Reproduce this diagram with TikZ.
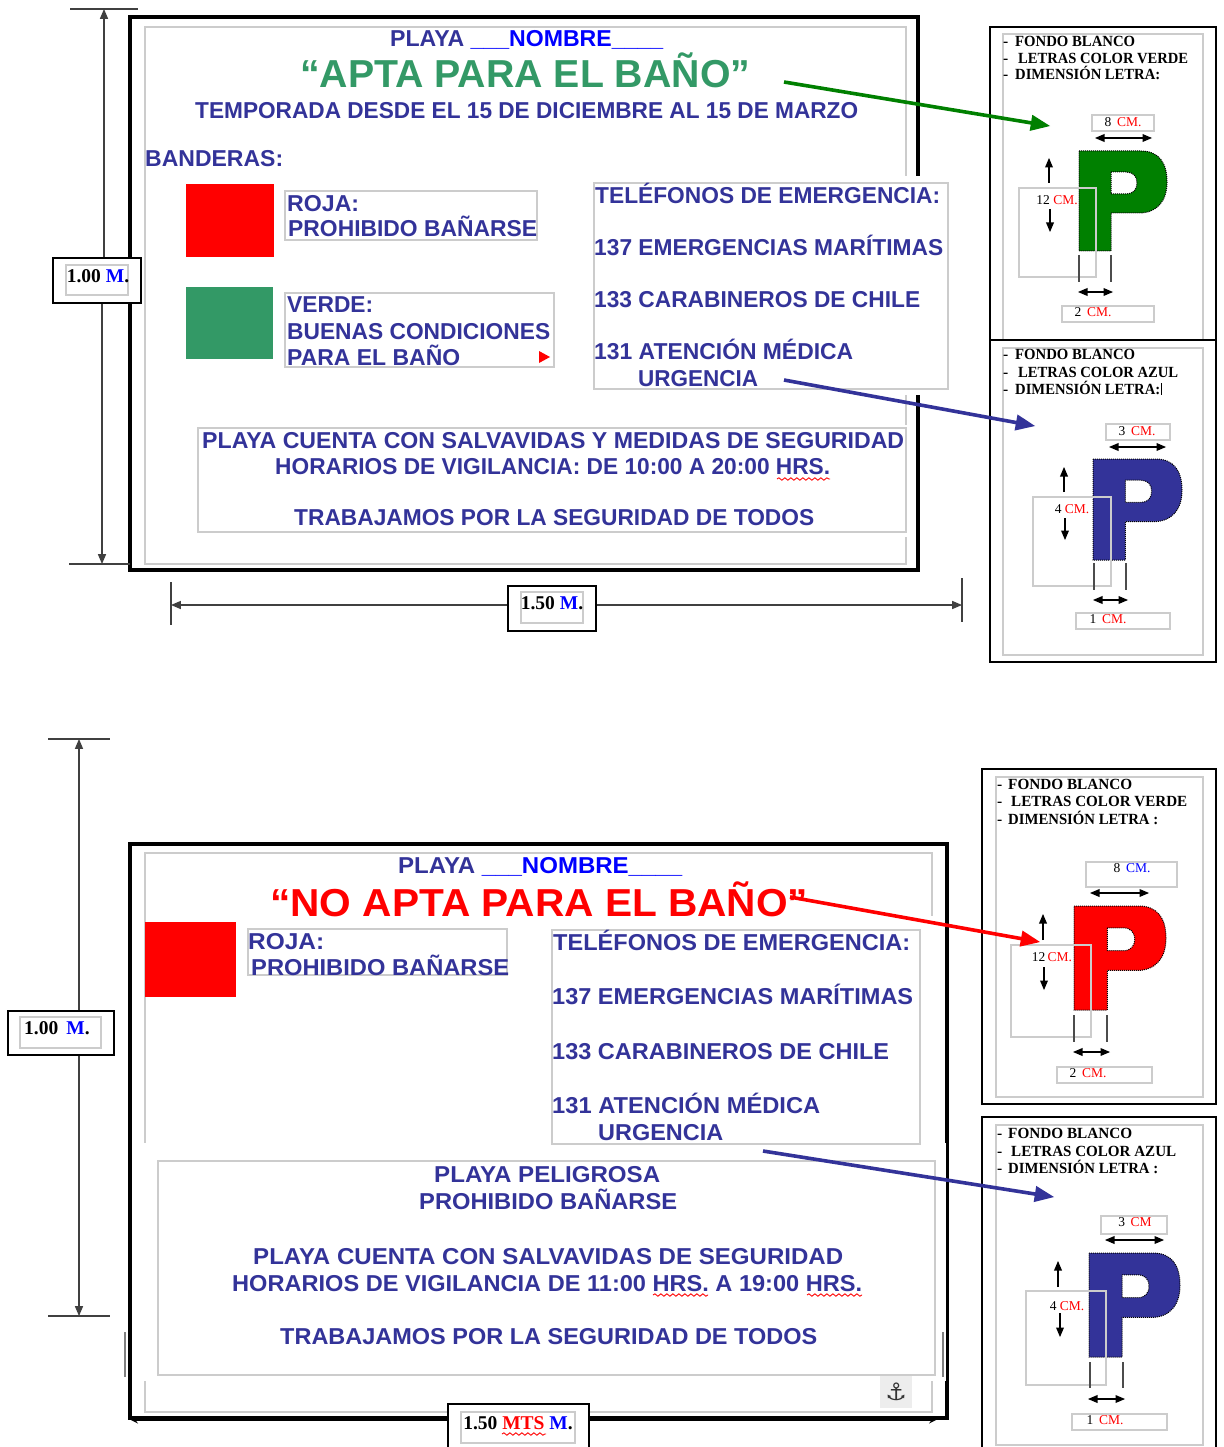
\documentclass[tikz,border=0pt]{standalone}
\usepackage{fontspec}
\usepackage{graphicx}
\setmainfont{Liberation Serif}
\setsansfont{Liberation Sans}
\newfontfamily\anchorfont{DejaVu Sans}
\usetikzlibrary{arrows,positioning,fit,decorations.pathmorphing}
\definecolor{cartelblue}{HTML}{333399}
\definecolor{cartelgreen}{HTML}{339966}
\definecolor{arrowgreen}{HTML}{008000}
\definecolor{grayline}{HTML}{CCCCCC}
\newcommand\fitw[2]{\resizebox{#1pt}{\height}{#2}}
\newcommand\cm[1]{\textcolor{red}{#1}}
\tikzset{
  signframe/.style={draw=black, line width=4pt},
  graybox/.style={draw=grayline, line width=1.2pt, fill=white, inner sep=0pt},
  plainbox/.style={draw=grayline, line width=1.2pt, inner sep=0pt},
  blackbox/.style={draw=black, line width=1.1pt, fill=white, inner sep=0pt},
  cover/.style={fill=white, inner sep=0pt},
  caps/.style={anchor=west, inner sep=0pt, text height=17pt, text depth=0pt,
    text=cartelblue, font=\sffamily\bfseries\fontsize{23}{23}\selectfont},
  bigcaps/.style={caps, text height=28.5pt, font=\sffamily\bfseries\fontsize{39}{39}\selectfont},
  note/.style={anchor=west, inner sep=0pt, text height=10.2pt, text depth=0pt,
    font=\rmfamily\bfseries\fontsize{15.5}{15.5}\selectfont},
  size/.style={inner sep=0pt, text height=9pt, text depth=0pt,
    font=\rmfamily\fontsize{13.5}{13.5}\selectfont},
  dimtext/.style={inner sep=0pt, font=\rmfamily\bfseries\fontsize{19.5}{19.5}\selectfont},
  dimline/.style={draw=black!75, line width=1.3pt},
  dimarrow/.style={dimline, -triangle 45},
  bothway/.style={draw=black, line width=1.2pt, triangle 45-triangle 45},
  oneway/.style={draw=black, line width=1.2pt, -triangle 45},
  guide/.style={draw=black!70, line width=1.4pt},
  bigarrow/.style={line width=3.6pt, -triangle 45},
  wavy/.style={draw=red, line width=0.9pt, decorate, decoration={snake, amplitude=1.2pt, segment length=6pt}},
  letterp/.style={draw=black, densely dotted, line width=1pt, fill=#1, even odd rule},
}
% letter P: left, top, width, height, colour
\newcommand\letterP[5]{
  \begin{scope}[shift={(#1,#2)}, xscale=#3/88, yscale=#4/100]
    \path[letterp=#5] (0,0) -- (62,0) .. controls (80,0) and (88,12) .. (88,31)
      .. controls (88,50) and (78,62) .. (60,62) -- (32,62) -- (32,100) -- (0,100) -- cycle
      (32,21) -- (47,21) .. controls (54,21) and (58,25) .. (58,32)
      .. controls (58,39) and (54,43) .. (47,43) -- (32,43) -- cycle;
  \end{scope}
}
\begin{document}
\begin{tikzpicture}[x=1pt, y=-1pt]
  \useasboundingbox (0,0) rectangle (1223,1447);

  % ---- upper sign
  \node[plainbox, fit={(145,27)(906,564)}] (inneraa) {};
  \node[signframe, inner sep=0pt, fit={(130,17)(918,570)}] (signa) {};
  \node[cover, fit={(585,176)(925,395)}] (coveraa) {};
  \node[graybox, fit={(594,183)(948,389)}] (phonesa) {};
  \node[cover, fit={(198,425)(912,537)}] (coverab) {};
  \node[graybox, fit={(198,428)(906,532)}] (rulesa) {};

  \node[caps] (playaa) at (390,38) {\fitw{273}{PLAYA \textcolor{blue}{\_\_\_NOMBRE\_\_\_\_}}};
  \node[bigcaps, text=cartelgreen] (titlea) at (300,73) {\fitw{450}{“APTA PARA EL BAÑO”}};
  \node[caps] (seasona) at (195,110) {\fitw{663}{TEMPORADA DESDE EL 15 DE DICIEMBRE AL 15 DE MARZO}};
  \node[caps] (flagsa) at (145,158) {\fitw{138}{BANDERAS:}};

  \node[fill=red, inner sep=0pt, fit={(186,184)(274,257)}] (reda) {};
  \node[graybox, fit={(285,191)(537,240)}] (redboxa) {};
  \node[caps] at (287,203) (redaa) {\fitw{72}{ROJA:}};
  \node[caps] at (288,228) (redab) {\fitw{249}{PROHIBIDO BAÑARSE}};

  \node[fill=cartelgreen, inner sep=0pt, fit={(186,287)(273,359)}] (greena) {};
  \node[graybox, fit={(285,293)(554,367)}] (greenboxa) {};
  \node[caps] at (287,304) (greenaa) {\fitw{86}{VERDE:}};
  \node[caps] at (287,331) (greenab) {\fitw{263}{BUENAS CONDICIONES}};
  \node[caps] at (287,357) (greenac) {\fitw{173}{PARA EL BAÑO}};
  \fill[red] (539,351) -- (550,357) -- (539,363) -- cycle;

  \node[caps] at (595,195) (phoneaa) {\fitw{345}{TELÉFONOS DE EMERGENCIA:}};
  \node[caps] at (594,247) (phoneab) {\fitw{349}{137 EMERGENCIAS MARÍTIMAS}};
  \node[caps] at (594,299) (phoneac) {\fitw{326}{133 CARABINEROS DE CHILE}};
  \node[caps] at (594,351) (phonead) {\fitw{259}{131 ATENCIÓN MÉDICA}};
  \node[caps] at (638,378) (phoneae) {\fitw{120}{URGENCIA}};

  \node[caps] at (202,440) (rulesaa) {\fitw{702}{PLAYA CUENTA CON SALVAVIDAS Y MEDIDAS DE SEGURIDAD}};
  \node[caps] at (275,466) (rulesab) {\fitw{555}{HORARIOS DE VIGILANCIA: DE 10:00 A 20:00 HRS.}};
  \node[caps] at (294,517) (rulesac) {\fitw{520}{TRABAJAMOS POR LA SEGURIDAD DE TODOS}};
  \coordinate (wavyaa) at (777,479);
  \coordinate (wavyab) at (830,479);
  \draw[wavy] (wavyaa) -- (wavyab);

  % height and width of upper sign
  \node[blackbox, fit={(53,258)(141,303)}] (heighta) {};
  \node[plainbox, fit={(66,265)(128,295)}] (heightab) {};
  \node[dimtext] at (98,276) (heightac) {1.00 \textcolor{blue}{M}.};
  \coordinate (tickaa) at (70,9);
  \coordinate (tickab) at (138,9);
  \coordinate (tickac) at (69,564);
  \coordinate (tickad) at (130,564);
  \coordinate (heighttop) at (104,9);
  \coordinate (heightbot) at (102,564);
  \draw[dimline] (tickaa) -- (tickab);
  \draw[dimline] (tickac) -- (tickad);
  \draw[dimarrow] (heighta.north -| heighttop) -- (heighttop);
  \draw[dimarrow] (heighta.south -| heightbot) -- (heightbot);

  \node[blackbox, fit={(508,586)(596,631)}] (widtha) {};
  \node[plainbox, fit={(521,592)(583,623)}] (widthab) {};
  \node[dimtext] at (552,603) (widthac) {1.50 \textcolor{blue}{M}.};
  \coordinate (tickae) at (171,582);
  \coordinate (tickaf) at (171,625);
  \coordinate (tickag) at (962,578);
  \coordinate (tickah) at (962,622);
  \coordinate (widthl) at (171,605);
  \coordinate (widthr) at (962,605);
  \draw[dimline] (tickae) -- (tickaf);
  \draw[dimline] (tickag) -- (tickah);
  \draw[dimarrow] (widtha.west |- widthl) -- (widthl);
  \draw[dimarrow] (widtha.east |- widthr) -- (widthr);

  % ---- lower sign
  \node[plainbox, fit={(145,853)(932,1412)}] (innerba) {};
  \node[signframe, inner sep=0pt, fit={(130,844)(947,1418)}] (signb) {};
  \node[cover, fit={(925,916)(940,1150)}] (coverbc) {};
  \node[cover, fit={(133,1143)(945.5,1381)}] (coverba) {};
  \draw[black, line width=1pt] (948,1140) -- (948,1384);
  \node[graybox, fit={(158,1161)(935,1375)}] (rulesb) {};
  \node[graybox, fit={(552,930)(920,1144)}] (phonesb) {};
  \draw[black!50, line width=1.6pt] (125,1332) -- (125,1377);
  \draw[black!50, line width=1.6pt] (943,1332) -- (943,1377);

  \node[caps] (playab) at (398,865) {\fitw{284}{PLAYA \textcolor{blue}{\_\_\_NOMBRE\_\_\_\_}}};
  \node[bigcaps, text=red] (titleb) at (270,902) {\fitw{538}{“NO APTA PARA EL BAÑO”}};

  \node[fill=red, inner sep=0pt, fit={(145,922)(236,997)}] (redb) {};
  \node[graybox, fit={(248,929)(507,975)}] (redboxb) {};
  \node[caps] at (248,941) (redba) {\fitw{76}{ROJA:}};
  \node[caps] at (251,967) (redbb) {\fitw{258}{PROHIBIDO BAÑARSE}};

  \node[caps] at (553,942) (phoneba) {\fitw{357}{TELÉFONOS DE EMERGENCIA:}};
  \node[caps] at (552,996) (phonebb) {\fitw{361}{137 EMERGENCIAS MARÍTIMAS}};
  \node[caps] at (552,1051) (phonebc) {\fitw{337}{133 CARABINEROS DE CHILE}};
  \node[caps] at (552,1105) (phonebd) {\fitw{268}{131 ATENCIÓN MÉDICA}};
  \node[caps] at (598,1132) (phonebe) {\fitw{125}{URGENCIA}};

  \node[caps] at (434,1174) (rulesba) {\fitw{226}{PLAYA PELIGROSA}};
  \node[caps] at (419,1201) (rulesbb) {\fitw{258}{PROHIBIDO BAÑARSE}};
  \node[caps] at (253,1256) (rulesbc) {\fitw{590}{PLAYA CUENTA CON SALVAVIDAS DE SEGURIDAD}};
  \node[caps] at (232,1283) (rulesbd) {\fitw{630}{HORARIOS DE VIGILANCIA DE 11:00 HRS. A 19:00 HRS.}};
  \node[caps] at (280,1336) (rulesbe) {\fitw{537}{TRABAJAMOS POR LA SEGURIDAD DE TODOS}};
  \coordinate (wavyba) at (653,1295);
  \coordinate (wavybb) at (708,1295);
  \coordinate (wavybc) at (807,1295);
  \coordinate (wavybd) at (862,1295);
  \draw[wavy] (wavyba) -- (wavybb);
  \draw[wavy] (wavybc) -- (wavybd);

  \node[fill=black!7, inner sep=0pt, fit={(880,1376)(912,1408)}] (anchorbox) {};
  \node[inner sep=0pt, font=\anchorfont\fontsize{24}{24}\selectfont, text=black!80] at (896,1392) (anchorb) {⚓};

  % height and width of lower sign
  \node[blackbox, fit={(8,1011)(114,1055)}] (heightb) {};
  \node[plainbox, fit={(20,1017)(101,1048)}] (heightbb) {};
  \node[dimtext] at (57,1028) (heightbc) {1.00\, \textcolor{blue}{M}.};
  \coordinate (tickba) at (48,739);
  \coordinate (tickbb) at (110,739);
  \coordinate (tickbc) at (48,1316);
  \coordinate (tickbd) at (110,1316);
  \coordinate (heightbtop) at (79,739);
  \coordinate (heightbbot) at (79,1316);
  \draw[dimline] (tickba) -- (tickbb);
  \draw[dimline] (tickbc) -- (tickbd);
  \draw[dimarrow] (heightb.north -| heightbtop) -- (heightbtop);
  \draw[dimarrow] (heightb.south -| heightbbot) -- (heightbbot);

  \coordinate (widthbl) at (131,1420);
  \coordinate (widthbr) at (936,1420);
  \draw[black, line width=2pt, -stealth] (448,1420) -- (widthbl);
  \draw[black, line width=2pt, -stealth] (589,1420) -- (widthbr);
  \node[blackbox, fit={(448,1404)(589,1452)}] (widthb) {};
  \node[plainbox, fit={(461,1412)(575,1443)}] (widthbb) {};
  \node[dimtext] at (518,1423) (widthbc) {1.50 \textcolor{red}{MTS} \textcolor{blue}{M}.};
  \coordinate (wavybe) at (502,1434);
  \coordinate (wavybf) at (546,1434);
  \draw[wavy] (wavybe) -- (wavybf);

  % ---- panels on the right
  % panel one
  \node[blackbox, fit={(990,27)(1216,340)}] (panela) {};
  \node[plainbox, fit={(1003,34)(1203,340)}] (panelaa) {};
  \node[note] at (1003,41) (notea) {-};
  \node[note] at (1015,41) (noteaa) {\fitw{120}{FONDO BLANCO}};
  \node[note] at (1003,58) (noteb) {-};
  \node[note] at (1018,58) (noteab) {\fitw{170}{LETRAS COLOR VERDE}};
  \node[note] at (1003,74) (notec) {-};
  \node[note] at (1015,74) (noteac) {\fitw{145}{DIMENSIÓN LETRA:}};
  \node[plainbox, fit={(1092,115)(1154,131)}] (widea) {};
  \node[size] at (1123,122) {8\, \cm{CM.}};
  \draw[bothway] (1095,138) -- (1152,138);
  \letterP{1079}{151}{88}{100}{arrowgreen}
  \node[plainbox, fit={(1019,188)(1096,277)}] (talla) {};
  \node[size] at (1057,200) {12 \cm{CM.}};
  \draw[oneway] (1049,183) -- (1049,158);
  \draw[oneway] (1050,209) -- (1050,232);
  \draw[guide] (1079,255) -- (1079,282);
  \draw[guide] (1111,255) -- (1111,282);
  \draw[bothway] (1078,292) -- (1113,292);
  \node[plainbox, fit={(1062,306)(1154,322)}] (stema) {};
  \node[size] at (1093,312) {2\, \cm{CM.}};

  % panel two
  \node[blackbox, fit={(990,340)(1216,662)}] (panelb) {};
  \node[plainbox, fit={(1003,348)(1203,655)}] (panelba) {};
  \node[note] at (1003,354) (noted) {-};
  \node[note] at (1015,354) (noteba) {\fitw{120}{FONDO BLANCO}};
  \node[note] at (1003,372) (notee) {-};
  \node[note] at (1018,372) (notebb) {\fitw{160}{LETRAS COLOR AZUL}};
  \node[note] at (1003,389) (notef) {-};
  \node[note] at (1015,389) (notebc) {\fitw{145}{DIMENSIÓN LETRA:}};
  \draw[black, line width=0.8pt] (1161,383) -- (1161,395);
  \node[plainbox, fit={(1106,424)(1170,440)}] (wideb) {};
  \node[size] at (1137,431) {3\, \cm{CM.}};
  \draw[bothway] (1109,447) -- (1166,447);
  \letterP{1093}{459}{89}{101}{cartelblue}
  \node[plainbox, fit={(1033,497)(1111,586)}] (tallb) {};
  \node[size] at (1072,509) {4 \cm{CM.}};
  \draw[oneway] (1064,492) -- (1064,467);
  \draw[oneway] (1065,518) -- (1065,540);
  \draw[guide] (1094,563) -- (1094,590);
  \draw[guide] (1126,563) -- (1126,590);
  \draw[bothway] (1093,600) -- (1128,600);
  \node[plainbox, fit={(1076,613)(1170,629)}] (stemb) {};
  \node[size] at (1108,619) {1\, \cm{CM.}};

  % panel three
  \node[blackbox, fit={(982,769)(1216,1104)}] (panelc) {};
  \node[plainbox, fit={(996,777)(1203,1097)}] (panelca) {};
  \node[note] at (997,784) (noteg) {-};
  \node[note] at (1008,784) (noteca) {\fitw{124}{FONDO BLANCO}};
  \node[note] at (997,801) (noteh) {-};
  \node[note] at (1011,801) (notecb) {\fitw{176}{LETRAS COLOR VERDE}};
  \node[note] at (997,819) (notei) {-};
  \node[note] at (1008,819) (notecc) {\fitw{150}{DIMENSIÓN LETRA :}};
  \node[plainbox, fit={(1086,862)(1177,887)}] (widec) {};
  \node[size] at (1132,868) {8\, \textcolor{blue}{CM.}};
  \draw[bothway] (1090,893) -- (1149,893);
  \letterP{1074}{906}{92}{104}{red}
  \node[plainbox, fit={(1011,945)(1091,1037)}] (tallc) {};
  \node[size] at (1052,957) {12\,\cm{CM.}};
  \draw[oneway] (1043,940) -- (1043,914);
  \draw[oneway] (1044,967) -- (1044,990);
  \draw[guide] (1074,1015) -- (1074,1042);
  \draw[guide] (1107,1015) -- (1107,1042);
  \draw[bothway] (1073,1052) -- (1110,1052);
  \node[plainbox, fit={(1057,1067)(1152,1083)}] (stemc) {};
  \node[size] at (1088,1073) {2\, \cm{CM.}};

  % panel four
  \node[blackbox, fit={(982,1117)(1216,1460)}] (paneld) {};
  \node[plainbox, fit={(996,1125)(1203,1445)}] (panelda) {};
  \node[note] at (997,1133) (notej) {-};
  \node[note] at (1008,1133) (noteda) {\fitw{124}{FONDO BLANCO}};
  \node[note] at (997,1151) (notek) {-};
  \node[note] at (1011,1151) (notedb) {\fitw{165}{LETRAS COLOR AZUL}};
  \node[note] at (997,1168) (notel) {-};
  \node[note] at (1008,1168) (notedc) {\fitw{150}{DIMENSIÓN LETRA :}};
  \node[plainbox, fit={(1101,1216)(1167,1234)}] (wided) {};
  \node[size] at (1135,1222) {3\, \cm{CM}};
  \draw[bothway] (1105,1240) -- (1164,1240);
  \letterP{1089}{1253}{91}{104}{cartelblue}
  \node[plainbox, fit={(1026,1291)(1106,1385)}] (talld) {};
  \node[size] at (1067,1306) {4 \cm{CM.}};
  \draw[oneway] (1058,1287) -- (1058,1261);
  \draw[oneway] (1060,1313) -- (1060,1337);
  \draw[guide] (1090,1362) -- (1090,1388);
  \draw[guide] (1123,1362) -- (1123,1388);
  \draw[bothway] (1088,1399) -- (1125,1399);
  \node[plainbox, fit={(1072,1414)(1167,1430)}] (stemd) {};
  \node[size] at (1105,1420) {1\, \cm{CM.}};

  % big arrows from the titles to the panels
  \coordinate (arrowaa) at (784,82);
  \coordinate (arrowab) at (1050,126);
  \coordinate (arrowba) at (784,380);
  \coordinate (arrowbb) at (1035,426);
  \coordinate (arrowca) at (790,897);
  \coordinate (arrowcb) at (1040,942);
  \coordinate (arrowda) at (763,1151);
  \coordinate (arrowdb) at (1054,1197);
  \draw[bigarrow, draw=arrowgreen, fill=arrowgreen] (arrowaa) -- (arrowab);
  \draw[bigarrow, draw=cartelblue, fill=cartelblue] (arrowba) -- (arrowbb);
  \draw[bigarrow, draw=red, fill=red] (arrowca) -- (arrowcb);
  \draw[bigarrow, draw=cartelblue, fill=cartelblue] (arrowda) -- (arrowdb);
\end{tikzpicture}
\end{document}
